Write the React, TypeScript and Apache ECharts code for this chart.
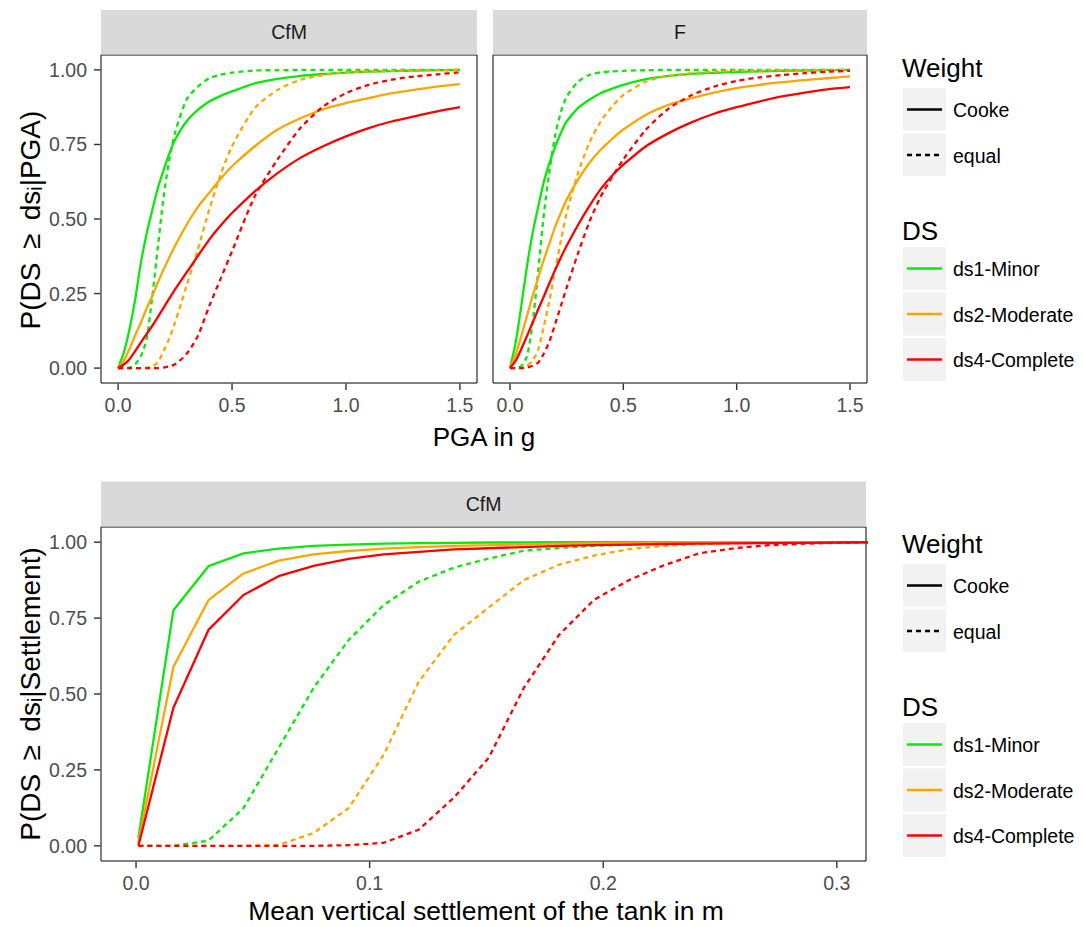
import React, { useEffect, useRef } from "react";
import * as echarts from "echarts";

// ---------- data ----------
const PGA = [0, 0.025, 0.05, 0.075, 0.1, 0.125, 0.15, 0.175, 0.2, 0.225, 0.25, 0.3, 0.35, 0.4, 0.45, 0.5, 0.6, 0.7, 0.8, 0.9, 1.0, 1.1, 1.2, 1.3, 1.4, 1.5];

const CfM_minor_cooke = [0, 0.052, 0.13, 0.23, 0.353, 0.45, 0.53, 0.605, 0.665, 0.72, 0.766, 0.827, 0.866, 0.894, 0.913, 0.928, 0.955, 0.97, 0.98, 0.986, 0.991, 0.994, 0.996, 0.998, 0.999, 1.0];
const CfM_minor_equal = [0, 0, 0.002, 0.013, 0.04, 0.097, 0.24, 0.41, 0.576, 0.7, 0.79, 0.9, 0.944, 0.972, 0.984, 0.991, 0.998, 0.999, 1, 1, 1, 1, 1, 1, 1, 1];
const CfM_mod_cooke = [0, 0.025, 0.064, 0.11, 0.153, 0.2, 0.242, 0.288, 0.331, 0.372, 0.41, 0.48, 0.54, 0.588, 0.635, 0.677, 0.744, 0.8, 0.838, 0.868, 0.889, 0.905, 0.922, 0.933, 0.944, 0.952];
const CfM_mod_equal = [0, 0, 0, 0, 0, 0.001, 0.005, 0.02, 0.058, 0.1, 0.153, 0.275, 0.398, 0.532, 0.649, 0.744, 0.872, 0.933, 0.967, 0.983, 0.992, 0.995, 0.997, 0.998, 0.999, 1.0];
const CfM_comp_cooke = [0, 0.012, 0.03, 0.057, 0.086, 0.114, 0.142, 0.172, 0.203, 0.234, 0.264, 0.32, 0.376, 0.431, 0.478, 0.52, 0.593, 0.654, 0.705, 0.744, 0.777, 0.805, 0.827, 0.844, 0.861, 0.875];
const CfM_comp_equal = [0, 0, 0, 0, 0, 0, 0, 0, 0.002, 0.006, 0.013, 0.047, 0.108, 0.208, 0.3, 0.392, 0.576, 0.7, 0.805, 0.877, 0.922, 0.95, 0.967, 0.978, 0.985, 0.992];

const F_minor_cooke = [0, 0.086, 0.21, 0.342, 0.454, 0.543, 0.627, 0.69, 0.744, 0.79, 0.827, 0.872, 0.9, 0.922, 0.937, 0.95, 0.969, 0.98, 0.987, 0.99, 0.993, 0.995, 0.997, 0.998, 0.999, 1.0];
const F_minor_equal = [0, 0, 0.008, 0.04, 0.153, 0.33, 0.52, 0.666, 0.783, 0.86, 0.91, 0.96, 0.983, 0.992, 0.995, 0.997, 0.999, 1, 1, 1, 1, 1, 1, 1, 1, 1];
const F_mod_cooke = [0, 0.045, 0.108, 0.175, 0.242, 0.305, 0.365, 0.42, 0.476, 0.522, 0.565, 0.632, 0.688, 0.732, 0.768, 0.8, 0.85, 0.883, 0.905, 0.924, 0.939, 0.95, 0.959, 0.966, 0.972, 0.978];
const F_mod_equal = [0, 0, 0.001, 0.008, 0.025, 0.064, 0.142, 0.23, 0.331, 0.43, 0.52, 0.654, 0.755, 0.827, 0.877, 0.916, 0.961, 0.98, 0.989, 0.994, 0.997, 0.998, 0.999, 0.999, 1, 1];
const F_comp_cooke = [0, 0.025, 0.064, 0.108, 0.153, 0.198, 0.242, 0.287, 0.331, 0.372, 0.41, 0.48, 0.543, 0.6, 0.645, 0.682, 0.744, 0.788, 0.824, 0.853, 0.875, 0.894, 0.911, 0.924, 0.935, 0.942];
const F_comp_equal = [0, 0, 0, 0.002, 0.008, 0.019, 0.05, 0.092, 0.15, 0.21, 0.27, 0.385, 0.49, 0.575, 0.64, 0.7, 0.8, 0.87, 0.915, 0.944, 0.963, 0.975, 0.983, 0.989, 0.994, 0.997];

const SETTLEMENT = [0.001, 0.016, 0.031, 0.046, 0.061, 0.076, 0.091, 0.106, 0.121, 0.136, 0.151, 0.166, 0.181, 0.196, 0.211, 0.226, 0.241, 0.256, 0.271, 0.286, 0.301, 0.316];
const S_minor_cooke = [0.025, 0.776, 0.921, 0.963, 0.979, 0.988, 0.992, 0.995, 0.997, 0.998, 0.999, 0.999, 1, 1, 1, 1, 1, 1, 1, 1, 1, 1];
const S_mod_cooke = [0.01, 0.59, 0.809, 0.897, 0.939, 0.96, 0.971, 0.979, 0.984, 0.988, 0.99, 0.993, 0.995, 0.996, 0.997, 0.998, 0.999, 0.999, 1, 1, 1, 1];
const S_comp_cooke = [0, 0.455, 0.711, 0.826, 0.888, 0.922, 0.945, 0.96, 0.968, 0.976, 0.98, 0.984, 0.988, 0.99, 0.992, 0.994, 0.995, 0.996, 0.997, 0.998, 0.999, 1];
const S_minor_equal = [0, 0, 0.017, 0.124, 0.322, 0.52, 0.678, 0.793, 0.87, 0.916, 0.946, 0.972, 0.981, 0.988, 0.992, 0.995, 0.997, 0.998, 0.999, 1, 1, 1];
const S_mod_equal = [0, 0, 0, 0, 0.003, 0.042, 0.124, 0.3, 0.54, 0.694, 0.785, 0.875, 0.926, 0.956, 0.977, 0.988, 0.994, 0.997, 0.998, 0.999, 1, 1];
const S_comp_equal = [0, 0, 0, 0, 0, 0, 0.002, 0.01, 0.053, 0.158, 0.29, 0.52, 0.694, 0.81, 0.875, 0.924, 0.963, 0.98, 0.99, 0.995, 0.998, 1];

const PGA_TICKS = [0, 0.5, 1.0, 1.5];
const SET_TICKS = [0, 0.1, 0.2, 0.3];
const P_TICKS = [0, 0.25, 0.5, 0.75, 1.0];

const DS_LABELS = ["ds1-Minor", "ds2-Moderate", "ds4-Complete"];
const WEIGHT_LABELS = ["Cooke", "equal"];
const PANEL_TOP = ["CfM", "F"];
const PANEL_BOTTOM = "CfM";
const Y_TITLE_TOP = "P(DS \u2009\u2265\u2009 ds\u1D62|PGA)";
const Y_TITLE_BOTTOM = "P(DS \u2009\u2265\u2009 ds\u1D62|Settlement)";
const X_TITLE_TOP = "PGA in g";
const X_TITLE_BOTTOM = "Mean vertical settlement of the tank in m";

const COLORS = ["#0BE80B", "#FFA500", "#FF0000"];
const DASH = [5, 4];
const FONT = '"Liberation Sans", Arial, sans-serif';
const TICK_LEN = 7;

function pairs(xs: number[], ys: number[]) {
  return xs.map((x, i) => [x, ys[i]]);
}

function line(xs: number[], ys: number[], color: string, dashed: boolean, idx: number, smooth: boolean) {
  return {
    type: "line",
    xAxisIndex: idx,
    yAxisIndex: idx,
    data: pairs(xs, ys),
    showSymbol: false,
    symbol: "none",
    smooth: smooth ? 0.25 : false,
    clip: true,
    lineStyle: { color, width: 2.3, type: dashed ? DASH : "solid" },
    silent: true,
  };
}

function xAxis(idx: number, min: number, max: number, ticks: number[]) {
  return {
    type: "value",
    gridIndex: idx,
    position: "bottom",
    min,
    max,
    splitLine: { show: false },
    axisLine: { show: false, onZero: false },
    axisTick: { show: false },
    axisLabel: {
      show: true,
      customValues: ticks,
      margin: 12,
      color: "#4D4D4D",
      fontSize: 19.5,
      fontFamily: FONT,
      formatter: (v: number) => v.toFixed(1),
    },
  };
}

function yAxis(idx: number, showLabels: boolean) {
  return {
    type: "value",
    gridIndex: idx,
    position: "left",
    min: -0.05,
    max: 1.05,
    splitLine: { show: false },
    axisLine: { show: false, onZero: false },
    axisTick: { show: false },
    axisLabel: {
      show: showLabels,
      customValues: P_TICKS,
      margin: 14,
      color: "#4D4D4D",
      fontSize: 19.5,
      fontFamily: FONT,
      formatter: (v: number) => v.toFixed(2),
    },
  };
}

function strip(x: number, y: number, w: number, h: number, label: string) {
  return [
    { type: "rect", shape: { x, y, width: w, height: h }, style: { fill: "#D9D9D9" }, silent: true },
    {
      type: "text",
      x: x + w / 2,
      y: y + h / 2,
      style: { text: label, fill: "#1A1A1A", font: `19.5px ${FONT}`, align: "center", verticalAlign: "middle" },
      silent: true,
    },
  ];
}

function legend(dy: number) {
  const els: any[] = [];
  const kx = 903;
  const kw = 43;
  els.push({ type: "text", x: 902, y: 68 + dy, style: { text: "Weight", fill: "#000", font: `26px ${FONT}`, align: "left", verticalAlign: "middle" } });
  const wy = [88, 133.5];
  WEIGHT_LABELS.forEach((lab, i) => {
    const y0 = wy[i] + dy;
    els.push({ type: "rect", shape: { x: kx, y: y0, width: kw, height: 42.5 }, style: { fill: "#F2F2F2" } });
    els.push({
      type: "line",
      shape: { x1: kx + 4, y1: y0 + 21.5, x2: kx + 39, y2: y0 + 21.5 },
      style: { stroke: "#000", lineWidth: 2.3, lineDash: i === 0 ? null : DASH },
    });
    els.push({ type: "text", x: 953, y: y0 + 22, style: { text: lab, fill: "#000", font: `19.5px ${FONT}`, align: "left", verticalAlign: "middle" } });
  });
  els.push({ type: "text", x: 902, y: 231 + dy, style: { text: "DS", fill: "#000", font: `26px ${FONT}`, align: "left", verticalAlign: "middle" } });
  const dsy = [247, 292.5, 338];
  DS_LABELS.forEach((lab, i) => {
    const y0 = dsy[i] + dy;
    els.push({ type: "rect", shape: { x: kx, y: y0, width: kw, height: 43 }, style: { fill: "#F2F2F2" } });
    els.push({
      type: "line",
      shape: { x1: kx + 4, y1: y0 + 21.5, x2: kx + 39, y2: y0 + 21.5 },
      style: { stroke: COLORS[i], lineWidth: 2.3 },
    });
    els.push({ type: "text", x: 953, y: y0 + 22, style: { text: lab, fill: "#000", font: `19.5px ${FONT}`, align: "left", verticalAlign: "middle" } });
  });
  return els;
}

export default function App() {
  const ref = useRef<HTMLDivElement>(null);
  useEffect(() => {
    if (!ref.current) return;
    const chart = echarts.init(ref.current, undefined, { renderer: "svg" });

    const series: any[] = [];
    const top = [
      [CfM_minor_cooke, CfM_minor_equal, CfM_mod_cooke, CfM_mod_equal, CfM_comp_cooke, CfM_comp_equal],
      [F_minor_cooke, F_minor_equal, F_mod_cooke, F_mod_equal, F_comp_cooke, F_comp_equal],
    ];
    top.forEach((arrs, p) => {
      for (let d = 0; d < 3; d++) {
        series.push(line(PGA, arrs[d * 2], COLORS[d], false, p, true));
        series.push(line(PGA, arrs[d * 2 + 1], COLORS[d], true, p, true));
      }
    });
    const bottom = [S_minor_cooke, S_minor_equal, S_mod_cooke, S_mod_equal, S_comp_cooke, S_comp_equal];
    for (let d = 0; d < 3; d++) {
      series.push(line(SETTLEMENT, bottom[d * 2], COLORS[d], false, 2, false));
      series.push(line(SETTLEMENT, bottom[d * 2 + 1], COLORS[d], true, 2, false));
    }

    const grids = [
      { left: 101, top: 55, width: 376, height: 328 },
      { left: 493, top: 55, width: 374, height: 328 },
      { left: 101, top: 527, width: 765, height: 334 },
    ];
    const xRanges = [
      [-0.075, 1.575],
      [-0.075, 1.575],
      [-0.015, 0.3125],
    ];

    chart.setOption({
      animation: false,
      backgroundColor: "#FFFFFF",
      textStyle: { fontFamily: FONT },
      grid: grids.map((g) => ({ ...g, show: true, borderColor: "#000", borderWidth: 1, backgroundColor: "#fff" })),
      xAxis: [
        xAxis(0, xRanges[0][0], xRanges[0][1], PGA_TICKS),
        xAxis(1, xRanges[1][0], xRanges[1][1], PGA_TICKS),
        xAxis(2, xRanges[2][0], xRanges[2][1], SET_TICKS),
      ],
      yAxis: [yAxis(0, true), yAxis(1, false), yAxis(2, true)],
      series,
    });

    // axis tick marks, placed by the axes' own scales
    const ticks: any[] = [];
    const xTickSets = [PGA_TICKS, PGA_TICKS, SET_TICKS];
    grids.forEach((g, gi) => {
      const bottomY = g.top + g.height;
      xTickSets[gi].forEach((v) => {
        let px = chart.convertToPixel({ xAxisIndex: gi } as any, v) as any;
        if (typeof px !== "number" || !isFinite(px)) {
          px = g.left + ((v - xRanges[gi][0]) / (xRanges[gi][1] - xRanges[gi][0])) * g.width;
        }
        ticks.push({
          type: "line",
          z: 100,
          shape: { x1: px, y1: bottomY + 0.5, x2: px, y2: bottomY + TICK_LEN },
          style: { stroke: "#333333", lineWidth: 1.4 },
          silent: true,
        });
      });
      if (gi !== 1) {
        P_TICKS.forEach((v) => {
          let py = chart.convertToPixel({ yAxisIndex: gi } as any, v) as any;
          if (typeof py !== "number" || !isFinite(py)) {
            py = g.top + ((1.05 - v) / 1.1) * g.height;
          }
          ticks.push({
            type: "line",
            z: 100,
            shape: { x1: g.left - TICK_LEN, y1: py, x2: g.left - 0.5, y2: py },
            style: { stroke: "#333333", lineWidth: 1.4 },
            silent: true,
          });
        });
      }
    });

    const graphics: any[] = [
      ...strip(101, 10, 376, 44.5, PANEL_TOP[0]),
      ...strip(493, 10, 374, 44.5, PANEL_TOP[1]),
      ...strip(101, 481.5, 765, 45, PANEL_BOTTOM),
      {
        type: "text",
        x: 484,
        y: 437,
        style: { text: X_TITLE_TOP, fill: "#000", font: `26px ${FONT}`, align: "center", verticalAlign: "middle" },
      },
      {
        type: "text",
        x: 486,
        y: 911,
        style: { text: X_TITLE_BOTTOM, fill: "#000", font: `26.5px ${FONT}`, align: "center", verticalAlign: "middle" },
      },
      {
        type: "text",
        x: 30,
        y: 220,
        rotation: Math.PI / 2,
        style: { text: Y_TITLE_TOP, fill: "#000", font: `28px ${FONT}`, align: "center", verticalAlign: "middle" },
      },
      {
        type: "text",
        x: 30,
        y: 694,
        rotation: Math.PI / 2,
        style: { text: Y_TITLE_BOTTOM, fill: "#000", font: `28px ${FONT}`, align: "center", verticalAlign: "middle" },
      },
      ...legend(0),
      ...legend(476),
      ...ticks,
    ];

    chart.setOption({ graphic: graphics });
    return () => chart.dispose();
  }, []);
  return (
    <div
      ref={ref}
      style={{ position: "absolute", left: 0, top: 0, width: 1083, height: 927, background: "#fff" }}
    />
  );
}
